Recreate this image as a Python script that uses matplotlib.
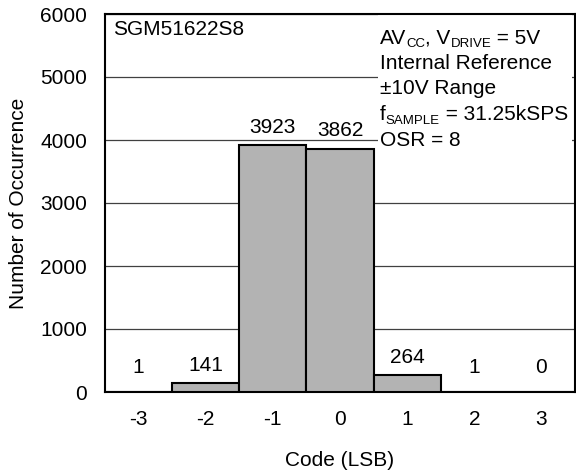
import matplotlib
matplotlib.use("Agg")
import matplotlib.pyplot as plt
import matplotlib.patches as mpatches
from matplotlib.transforms import IdentityTransform

# histogram data
codes = [-3, -2, -1, 0, 1, 2, 3]
counts = [1, 141, 3923, 3862, 264, 1, 0]

# condition text, (text, is_subscript) pieces per line
cond_lines = [
    [('AV', False), ('CC', True), (', V', False), ('DRIVE', True), (' = 5V', False)],
    [('Internal Reference', False)],
    [('±10V Range', False)],
    [('f', False), ('SAMPLE', True), (' = 31.25kSPS', False)],
    [('OSR = 8', False)],
]

plt.rcParams['font.family'] = ['Liberation Sans', 'DejaVu Sans']
plt.rcParams['font.size'] = 15
plt.rcParams['axes.unicode_minus'] = False

fig = plt.figure(figsize=(5.76, 4.75), dpi=100)
ax = fig.add_axes([105/576, 1-392/475, 470/576, 378/475])
ax.set_axisbelow(True)

ax.bar(codes, counts, width=1.0, color='#B3B3B3', edgecolor='black', linewidth=1.5, zorder=3)

# value labels above bars
for c, n in zip(codes, counts):
    y = max(n, 100)
    ax.annotate(str(n), (c, y), xytext=(0, 6), textcoords='offset points',
                ha='center', va='bottom', fontsize=15, zorder=4)

ax.set_xlim(-3.5, 3.5)
ax.set_ylim(0, 6000)
ax.set_yticks(range(0, 6001, 1000))
ax.set_xticks(codes)
ax.tick_params(length=0, pad=13, labelsize=15)
ax.yaxis.grid(True, color='#404040', linewidth=0.9)
for s in ax.spines.values():
    s.set_linewidth(1.5)

ax.set_xlabel('Code (LSB)', fontsize=15, labelpad=16)
ax.set_ylabel('Number of Occurrence', fontsize=15, labelpad=9)

ax.text(0.017, 0.985, 'SGM51622S8', transform=ax.transAxes, ha='left', va='top',
        fontsize=15, zorder=5)

# white box behind the conditions block (hides grid lines)
ax.add_patch(mpatches.Rectangle((0.581, 0.635), 0.413, 0.365, transform=ax.transAxes,
                                facecolor='white', edgecolor='none', zorder=1))

renderer = fig.canvas.get_renderer()
x_start = 380
base_top = 43.5
for i, parts in enumerate(cond_lines):
    x = x_start
    yb = 475 - (base_top + 25.5 * i)
    for s, sub in parts:
        if sub:
            t = fig.text(x, yb - 3.5, s, fontsize=9.5, va='baseline', ha='left',
                         transform=IdentityTransform())
        else:
            t = fig.text(x, yb, s, fontsize=15, va='baseline', ha='left',
                         transform=IdentityTransform())
        x += t.get_window_extent(renderer).width

fig.savefig('out.png', dpi=100)
